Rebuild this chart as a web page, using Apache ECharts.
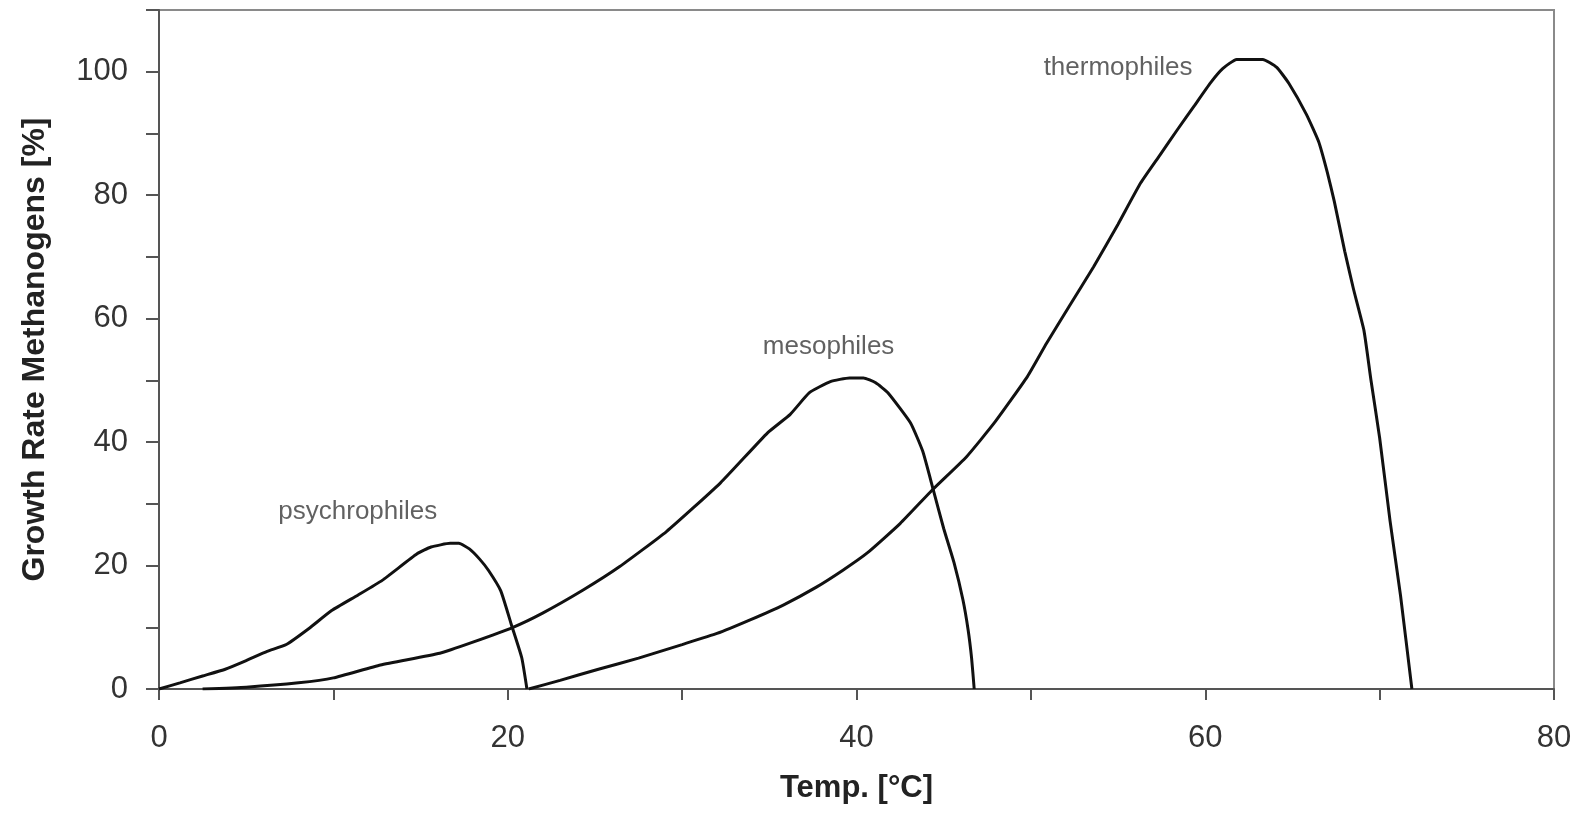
<!DOCTYPE html>
<html>
<head>
<meta charset="utf-8">
<title>Growth Rate Methanogens</title>
<script src="https://cdn.jsdelivr.net/npm/echarts@6/dist/echarts.min.js"></script>
<style>
	html, body { margin: 0; padding: 0; background: #fff; }
	#chart { width: 1581px; height: 813px; }
</style>
</head>
<body>
<div id="chart"></div>
<script>
// 读图得到的数据 [温度, 生长率]
var psychrophiles = [[0, 0], [1.2, 1], [2.5, 2.1], [3.8, 3.2], [5, 4.6], [6.2, 6.1], [7.3, 7.2], [8.6, 9.8],
	[9.9, 12.7], [11.4, 15.2], [12.8, 17.6], [14.8, 21.9], [15.6, 23], [16.7, 23.6], [17.2, 23.6], [17.8, 22.7],
	[18.4, 21], [18.9, 19.2], [19.6, 15.9], [20.2, 10.5], [20.8, 5.1], [21.1, 0]];

var mesophiles = [[2.5, 0], [5, 0.3], [8, 1], [10, 1.8], [12.7, 3.9], [16.1, 5.8], [18, 7.6], [20.3, 10],
	[22, 12.3], [24.3, 16], [26.4, 19.8], [29.1, 25.5], [32.2, 33.4], [34.9, 41.5], [36.2, 44.5], [37.3, 48],
	[38.5, 49.8], [39.6, 50.4], [40.4, 50.4], [41.1, 49.6], [41.8, 48], [43.1, 43.1], [43.8, 38.5], [44.4, 32.3],
	[45, 26], [45.6, 20.4], [46.1, 14.5], [46.4, 9.6], [46.6, 5], [46.75, 0]];

var thermophiles = [[21.2, 0], [23, 1.4], [25.2, 3.2], [27.5, 5], [30, 7.2], [32, 9], [33.9, 11.2], [35.8, 13.6],
	[37.7, 16.5], [39.2, 19.2], [40.6, 22], [42.5, 26.8], [44.4, 32.4], [46.3, 37.6], [47.9, 43.1], [49.8, 50.6],
	[50.9, 56], [52.2, 62], [53.6, 68.4], [55, 75.3], [56.3, 82], [57.4, 86.5], [58.4, 90.6], [59.4, 94.6],
	[60.3, 98.2], [61, 100.5], [61.8, 102], [63.3, 102], [64.1, 100.7], [64.8, 98.1], [65.8, 93.1], [66.5, 88.7],
	[67, 83.7], [67.4, 79], [68, 70.9], [68.5, 64.8], [69.1, 58.1], [69.5, 50.1], [70, 40.7], [70.6, 27.2],
	[71.2, 15.1], [71.85, 0]];

// 曲线名称标注
var curveNames = ['psychrophiles', 'mesophiles', 'thermophiles'];
var namePos = [[11.4, 28.7], [38.4, 55.4], [55.0, 100.6]];

var xTicks = [0, 20, 40, 60, 80];
var yTicks = [0, 20, 40, 60, 80, 100];

var font = 'Arial, "Liberation Sans", sans-serif';

var main = {
	init: function() {
		main.chart()
	},
	line: function(data) {
		return {
			type: 'line',
			data: data,
			showSymbol: false,
			smooth: 0.15,
			lineStyle: {
				color: '#111',
				width: 3
			},
			silent: true,
			animation: false
		};
	},
	chart: function() {
		var myChart = echarts.init(document.getElementById('chart'));

		var labels = curveNames.map(function(n, i) {
			return { name: n, value: namePos[i] };
		});

		var option = {
			backgroundColor: '#fff',
			animation: false,
			grid: {
				left: 159,
				right: 27,
				top: 10,
				bottom: 124,
				show: true,
				borderColor: '#8a8a8a',
				borderWidth: 2
			},
			xAxis: {
				type: 'value',
				min: 0,
				max: 80,
				interval: 10,
				name: 'Temp. [°C]',
				nameLocation: 'middle',
				nameGap: 84,
				nameTextStyle: {
					fontFamily: font,
					fontWeight: 'bold',
					fontSize: 31,
					color: '#222'
				},
				splitLine: { show: false },
				axisLine: { lineStyle: { color: '#555', width: 2 } },
				axisTick: { inside: false, length: 11, lineStyle: { color: '#555', width: 2 } },
				axisLabel: {
					margin: 34,
					fontFamily: font,
					fontSize: 31,
					color: '#333',
					formatter: function(v) {
						return xTicks.indexOf(v) > -1 ? v : '';
					}
				}
			},
			yAxis: {
				type: 'value',
				min: 0,
				max: 110,
				interval: 10,
				name: 'Growth Rate Methanogens [%]',
				nameLocation: 'middle',
				nameRotate: 90,
				nameGap: 108,
				nameTextStyle: {
					fontFamily: font,
					fontWeight: 'bold',
					fontSize: 32,
					color: '#222'
				},
				splitLine: { show: false },
				axisLine: { show: true, lineStyle: { color: '#555', width: 2 } },
				axisTick: { show: true, inside: false, length: 13, lineStyle: { color: '#555', width: 2 } },
				axisLabel: {
					margin: 31,
					fontFamily: font,
					fontSize: 31,
					color: '#333',
					formatter: function(v) {
						return yTicks.indexOf(v) > -1 ? v : '';
					}
				}
			},
			series: [
				main.line(psychrophiles),
				main.line(mesophiles),
				main.line(thermophiles),
				{
					type: 'scatter',
					data: labels,
					symbolSize: 0,
					silent: true,
					label: {
						show: true,
						position: 'inside',
						formatter: '{b}',
						fontFamily: font,
						fontSize: 26,
						color: '#3a3a3a'
					}
				}
			]
		};

		myChart.setOption(option);
	}
}

main.init()
</script>
</body>
</html>
